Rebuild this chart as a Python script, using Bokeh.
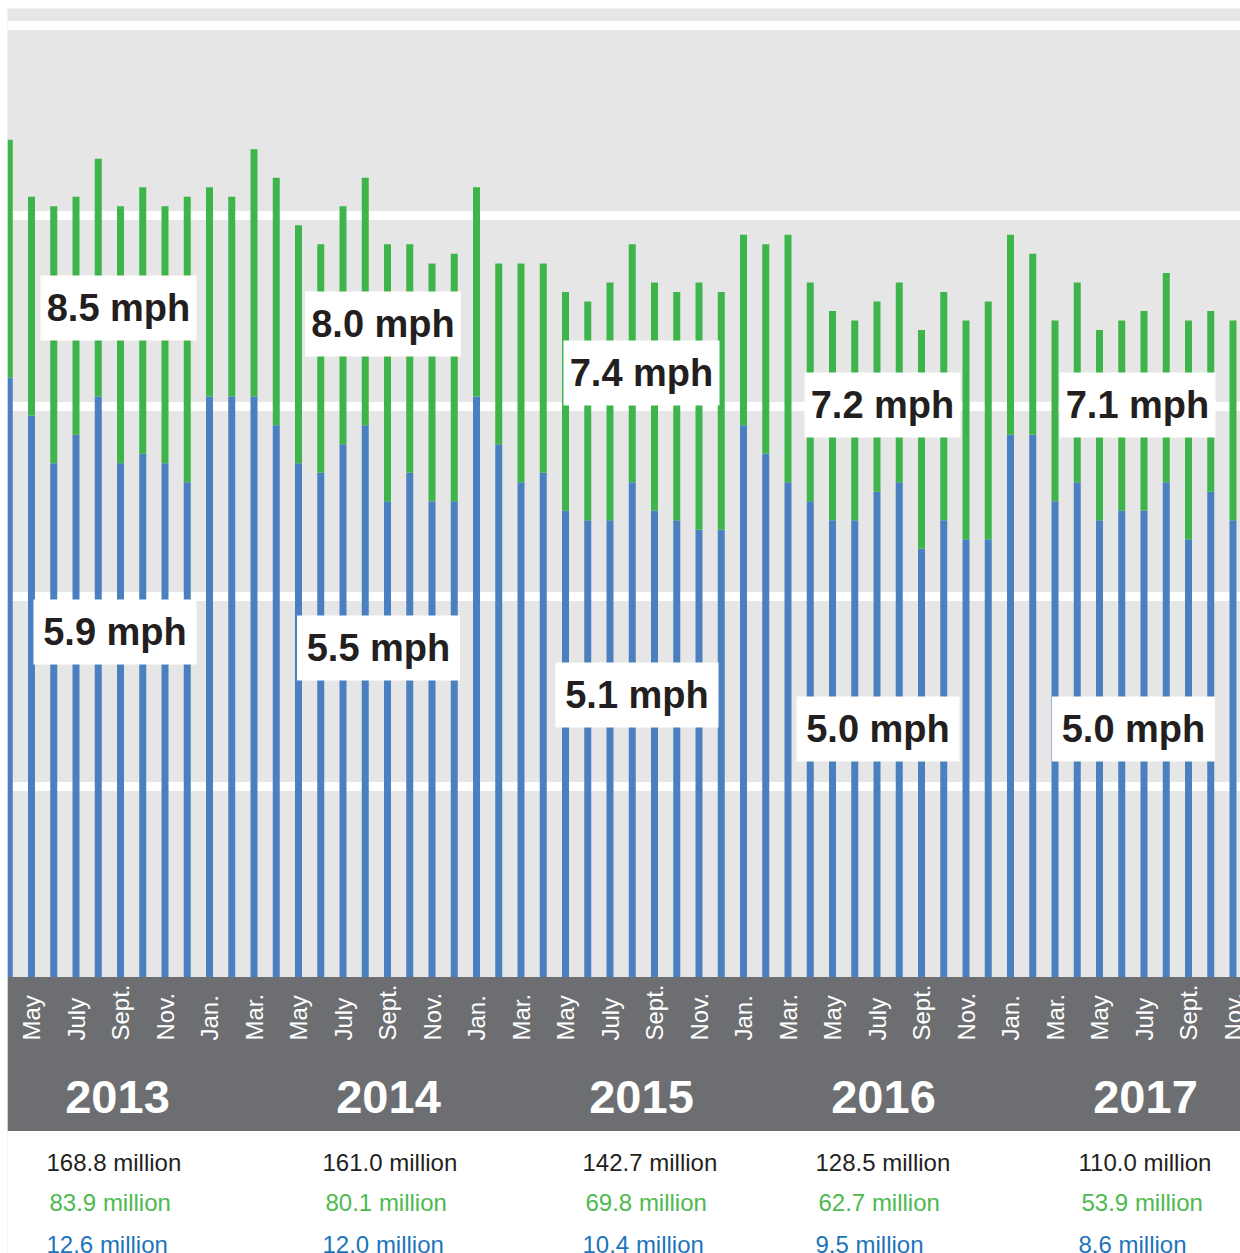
import math
from bokeh.plotting import figure
from bokeh.models import Range1d, FixedTicker, Grid
from bokeh.core.properties import value
from bokeh.embed import file_html
from bokeh.resources import INLINE

# ---------------- data ----------------
# 56 months, April 2013 .. November 2017
month_names = ["Jan.", "Feb.", "Mar.", "Apr.", "May", "June", "July", "Aug.", "Sept.", "Oct.", "Nov.", "Dec."]
months = []
for k in range(56):
    m = (3 + k) % 12
    y = 2013 + (3 + k) // 12
    months.append(f"{month_names[m]} {y}")

# average speed (mph) per month: green = upper series, blue = lower series
green_mph = [8.8, 8.2, 8.1, 8.2, 8.6, 8.1, 8.3, 8.1, 8.2, 8.3,
             8.2, 8.7, 8.4, 7.9, 7.7, 8.1, 8.4, 7.7, 7.7, 7.5,
             7.6, 8.3, 7.5, 7.5, 7.5, 7.2, 7.1, 7.3, 7.7, 7.3,
             7.2, 7.3, 7.2, 7.8, 7.7, 7.8, 7.3, 7.0, 6.9, 7.1,
             7.3, 6.8, 7.2, 6.9, 7.1, 7.8, 7.6, 6.9, 7.3, 6.8,
             6.9, 7.0, 7.4, 6.9, 7.0, 6.9]
blue_mph = [6.3, 5.9, 5.4, 5.7, 6.1, 5.4, 5.5, 5.4, 5.2, 6.1,
            6.1, 6.1, 5.8, 5.4, 5.3, 5.6, 5.8, 5.0, 5.3, 5.0,
            5.0, 6.1, 5.6, 5.2, 5.3, 4.9, 4.8, 4.8, 5.2, 4.9,
            4.8, 4.7, 4.7, 5.8, 5.5, 5.2, 5.0, 4.8, 4.8, 5.1,
            5.2, 4.5, 4.8, 4.6, 4.6, 5.7, 5.7, 5.0, 5.2, 4.8,
            4.9, 4.9, 5.2, 4.6, 5.1, 4.8]

# tick labels (every other month, starting May 2013)
tick_labels = ["May", "July", "Sept.", "Nov.", "Jan.", "Mar.",
               "May", "July", "Sept.", "Nov.", "Jan.", "Mar.",
               "May", "July", "Sept.", "Nov.", "Jan.", "Mar.",
               "May", "July", "Sept.", "Nov.", "Jan.", "Mar.",
               "May", "July", "Sept.", "Nov."]

years = ["2013", "2014", "2015", "2016", "2017"]
green_avg = ["8.5 mph", "8.0 mph", "7.4 mph", "7.2 mph", "7.1 mph"]
blue_avg = ["5.9 mph", "5.5 mph", "5.1 mph", "5.0 mph", "5.0 mph"]
total_trips = ["168.8 million", "161.0 million", "142.7 million", "128.5 million", "110.0 million"]
green_trips = ["83.9 million", "80.1 million", "69.8 million", "62.7 million", "53.9 million"]
blue_trips = ["12.6 million", "12.0 million", "10.4 million", "9.5 million", "8.6 million"]

# ---------------- layout (page pixels) ----------------
W, H = 1240, 1253
FRAME_X0, FRAME_Y0 = 7, 8   # top-left of the grey plot area
BAR0_X = 8.75          # page x of first bar centre
BAR_STEP = 22.25       # px per month
BASE_Y = 976.5         # page y of 0 mph
PX_PER_MPH = 95.15

def dx(px):
    return (px - BAR0_X) / BAR_STEP

def dy(py):
    return (BASE_Y - py) / PX_PER_MPH

x0, x1 = dx(FRAME_X0), dx(W)
y0, y1 = dy(H), dy(FRAME_Y0)

GREEN = "#3db54a"
BLUE = "#4a80bf"
GREEN_TXT = "#4dba4f"
BLUE_TXT = "#1d74bb"
DARK = "#6d6e71"
INK = "#231f20"
FONT = value("Liberation Sans")

p = figure(width=W, height=H, x_range=Range1d(x0, x1), y_range=Range1d(y0, y1),
           x_axis_type=None, y_axis_type=None, toolbar_location=None,
           output_backend="svg", outline_line_color=None,
           background_fill_color="#e6e6e6", border_fill_color="white")
p.min_border_left = FRAME_X0
p.min_border_top = FRAME_Y0
p.min_border_right = 0
p.min_border_bottom = 0

grid = Grid(dimension=1, ticker=FixedTicker(ticks=[2, 4, 6, 8, 10]),
            grid_line_color="white", grid_line_width=9)
p.add_layout(grid, "center")

idx = list(range(len(months)))

# bars
p.vbar(x=idx, bottom=0, top=blue_mph, width=7 / BAR_STEP, fill_color=BLUE, line_color=None)
p.vbar(x=idx, bottom=blue_mph, top=green_mph, width=7 / BAR_STEP, fill_color=GREEN, line_color=None)

# dark band and white footer
band_bottom = dy(1130.5)
p.quad(left=[x0], right=[x1], top=[0], bottom=[band_bottom], fill_color=DARK, line_color=None)
p.quad(left=[x0], right=[x1], top=[band_bottom], bottom=[y0], fill_color="white", line_color=None)

# month tick labels
tick_x = [i for i in idx if i % 2 == 1]
p.text(x=tick_x, y=[dy(1040)] * len(tick_x), text=tick_labels, angle=math.pi / 2,
       text_align="left", text_baseline="middle", text_color="white",
       text_font=FONT, text_font_size="24px")

# year labels
year_px = [117, 388, 641, 883, 1145]
p.text(x=[dx(v) for v in year_px], y=[dy(1096)] * 5, text=years,
       text_align="center", text_baseline="middle", text_color="white",
       text_font=FONT, text_font_style="bold", text_font_size="47px")

# yearly totals
stat_px = [46, 322, 582, 815, 1078]
for texts, py, col, shift in [(total_trips, 1162, INK, 0), (green_trips, 1202, GREEN_TXT, 3),
                              (blue_trips, 1244, BLUE_TXT, 0)]:
    p.text(x=[dx(v + shift) for v in stat_px], y=[dy(py)] * 5, text=texts,
           text_align="left", text_baseline="middle", text_color=col,
           text_font=FONT, text_font_size="24px")

# speed annotation boxes
green_box = [(118, 307.5), (382.5, 323.5), (641, 372.5), (882, 404.5), (1137, 404.5)]
blue_box = [(114.5, 631.5), (378, 647.5), (636.5, 694.5), (877.5, 728.5), (1133, 728.5)]
for boxes, labels, bw in [(green_box, green_avg, 156), (blue_box, blue_avg, 163)]:
    bx = [dx(b[0]) for b in boxes]
    by = [dy(b[1]) for b in boxes]
    p.rect(x=bx, y=by, width=bw, height=65, width_units="screen", height_units="screen",
           fill_color="white", line_color=None)
    p.text(x=bx, y=by, text=labels, text_align="center", text_baseline="middle",
           text_color=INK, text_font=FONT, text_font_style="bold", text_font_size="38px")

open("out.html", "w").write(file_html(p, INLINE))
